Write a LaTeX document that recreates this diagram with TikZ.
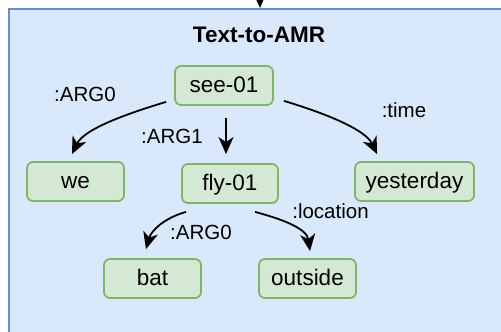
\documentclass[tikz,border=0pt]{standalone}
\usepackage{fontspec}
\setmainfont{Liberation Sans}
\usetikzlibrary{arrows.meta}
\definecolor{panelfill}{HTML}{DAE8FC}
\definecolor{panelline}{HTML}{6C8EBF}
\definecolor{conceptfill}{HTML}{D5E8D4}
\definecolor{conceptline}{HTML}{82B366}

\begin{document}
\begin{tikzpicture}[x=1pt,y=-1pt,
  concept/.style={draw=conceptline, fill=conceptfill, line width=1.8pt,
    rounded corners=6pt, minimum height=39pt, inner sep=0pt,
    font=\fontsize{22.5}{26}\selectfont, text height=16pt, text depth=2pt},
  rel/.style={font=\fontsize{20.5}{24}\selectfont, inner sep=0pt, anchor=base},
  link/.style={line width=1.8pt, -{Stealth[length=17pt,width=15pt,inset=5pt]}},
]
\useasboundingbox (0,0) rectangle (501,332);
\clip (0,0) rectangle (501,332);

% container panel
\node[draw=panelline, fill=panelfill, line width=2.2pt, inner sep=0pt,
      minimum width=502pt, minimum height=340pt, anchor=north west] (panel) at (8,8) {};
\node[font=\bfseries\fontsize{22.5}{26}\selectfont, anchor=base] (title) at (259,42) {Text-to-AMR};

% incoming arrow
\coordinate (feed) at (259,-30);
\draw[link] (feed) -- (panel.north);

% AMR concepts
\node[concept, minimum width=98pt] (see) at (224,85.5) {see-01};
\node[concept, minimum width=97pt] (we) at (75.5,181.5) {we};
\node[concept, minimum width=96pt] (fly) at (230,183.5) {fly-01};
\node[concept, minimum width=119pt] (yest) at (414.5,181.5) {yesterday};
\node[concept, minimum width=97pt] (bat) at (152.5,278.5) {bat};
\node[concept, minimum width=97pt] (out) at (307.5,278.5) {outside};

% relations
\draw[link] ([shift={(-8,-4)}]see.south west) .. controls +(-40,12) and +(12,-25) .. ([shift={(-3.5,-7)}]we.north);
\draw[link] ([shift={(10,-5)}]see.south east) .. controls +(40,12) and +(-12,-25) .. ([shift={(23,-7)}]yest.north west);
\draw[link] ([shift={(2,12)}]see.south) -- ([shift={(-4,-9)}]fly.north);
\draw[link] ([shift={(5,8)}]fly.south west) .. controls +(-22,6) and +(5,-18) .. ([shift={(-6.5,-9)}]bat.north);
\draw[link] ([shift={(25,8)}]fly.south) .. controls +(30,8) and +(-3,-22) .. ([shift={(2.5,-7)}]out.north);

% relation labels
\node[rel] (lArgA) at (85,101) {:ARG0};
\node[rel] (lTime) at (404,117) {:time};
\node[rel] (lArgB) at (172,143) {:ARG1};
\node[rel] (lLoc) at (330.5,218) {:location};
\node[rel] (lArgC) at (201,239) {:ARG0};
\end{tikzpicture}
\end{document}
